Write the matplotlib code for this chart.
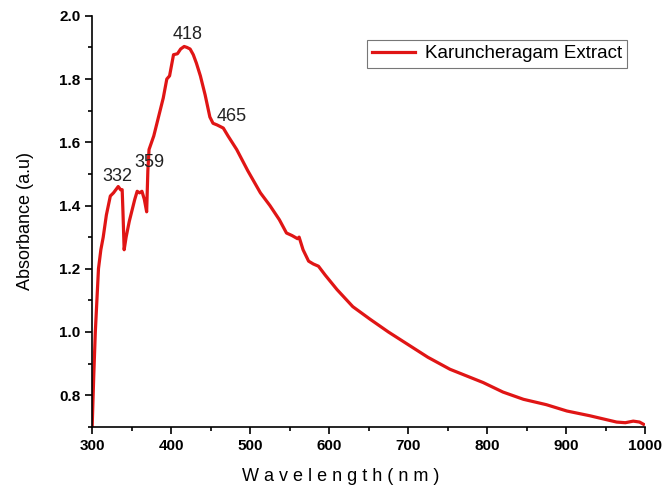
import matplotlib.pyplot as plt
from matplotlib.ticker import MultipleLocator

plt.rcParams['font.family'] = ['Liberation Sans', 'DejaVu Sans']

# UV-Vis absorbance
wavelength = [300, 302, 304, 306, 308, 311, 314, 318, 323, 327, 330, 333, 336, 338,
              339, 340.5, 343, 347, 350, 354, 357, 360, 363, 366, 369, 370.5, 372,
              378, 386, 390, 394.5, 398, 403, 408, 412, 416.5, 420, 424, 428, 432,
              437, 443, 449, 453, 458, 466, 472, 483, 497, 513, 525, 537, 546,
              553, 560, 562, 567, 574, 580, 586.5, 595, 610, 630, 652, 675, 700,
              725, 753, 775, 795, 820, 846, 875, 901, 930, 964, 975, 985, 993, 998]
absorbance = [0.70, 0.86, 1.00, 1.10, 1.20, 1.26, 1.30, 1.37, 1.43, 1.44, 1.45, 1.46, 1.45, 1.45,
              1.38, 1.26, 1.30, 1.35, 1.38, 1.42, 1.445, 1.44, 1.445, 1.42, 1.38, 1.51, 1.577,
              1.62, 1.70, 1.74, 1.80, 1.81, 1.877, 1.88, 1.895, 1.903, 1.90, 1.895, 1.877, 1.85,
              1.81, 1.75, 1.68, 1.66, 1.655, 1.645, 1.62, 1.577, 1.51, 1.44, 1.40, 1.355, 1.313,
              1.305, 1.295, 1.30, 1.26, 1.224, 1.215, 1.208, 1.18, 1.134, 1.08, 1.04, 1.00, 0.96,
              0.92, 0.882, 0.86, 0.84, 0.81, 0.787, 0.77, 0.75, 0.735, 0.715, 0.713, 0.718, 0.715, 0.708]

peak_labels = ['332', '359', '418', '465']
peak_pos = [(332, 1.465), (373, 1.51), (421, 1.915), (477, 1.655)]

fig = plt.figure(figsize=(6.63, 4.94), dpi=100)
ax = fig.add_axes([0.139, 0.136, 0.834, 0.832])

ax.plot(wavelength, absorbance, color='#e01515', linewidth=2.3, label='Karuncheragam Extract')

for lab, (x, y) in zip(peak_labels, peak_pos):
    ax.text(x, y, lab, fontsize=13, ha='center', va='bottom', color='#222222')

ax.set_xlim(300, 1000)
ax.set_ylim(0.7, 2.0)
ax.xaxis.set_major_locator(MultipleLocator(100))
ax.xaxis.set_minor_locator(MultipleLocator(50))
ax.yaxis.set_minor_locator(MultipleLocator(0.1))
ax.set_yticks([0.8, 1.0, 1.2, 1.4, 1.6, 1.8, 2.0])

ax.spines['top'].set_visible(False)
ax.spines['right'].set_visible(False)
ax.spines['left'].set_linewidth(1.2)
ax.spines['bottom'].set_linewidth(1.2)
ax.tick_params(axis='both', which='major', direction='out', length=5, width=1.2, labelsize=11)
ax.tick_params(axis='both', which='minor', direction='out', length=3, width=1.2)
for t in ax.get_xticklabels() + ax.get_yticklabels():
    t.set_fontweight('bold')

ax.set_xlabel('W a v e l e n g t h ( n m )', fontsize=13)
ax.xaxis.set_label_coords(0.45, -0.10)
ax.set_ylabel('Absorbance (a.u)', fontsize=13, labelpad=18)

leg = ax.legend(loc='upper right', bbox_to_anchor=(0.985, 0.965), fontsize=13.5, frameon=True,
                fancybox=False, edgecolor='#555555', handlelength=2.3, handletextpad=0.5,
                borderpad=0.3)
leg.get_frame().set_linewidth(0.8)

plt.savefig('out.png', dpi=100)
